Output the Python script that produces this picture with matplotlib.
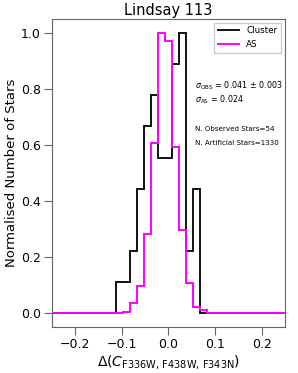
import numpy as np
import matplotlib
matplotlib.use('Agg')
import matplotlib.pyplot as plt

# bin edges of the histograms (same binning for both samples)
bin_edges = [-0.25, -0.112, -0.097, -0.082, -0.067, -0.052, -0.037, -0.022,
             -0.007, 0.008, 0.023, 0.038, 0.053, 0.068, 0.083, 0.25]

# star counts per bin
cluster_counts = [0, 1, 1, 2, 4, 6, 7, 5, 5, 8, 9, 2, 4, 0, 0]
as_counts = [0, 0, 1, 12, 32, 93, 201, 330, 321, 196, 98, 35, 7, 4, 0]

sigma_obs = 0.041
sigma_obs_err = 0.003
sigma_as = 0.024
n_obs = 54
n_as = 1330

cluster_norm = np.array(cluster_counts) / max(cluster_counts)
as_norm = np.array(as_counts) / max(as_counts)

fig = plt.figure(figsize=(2.98, 3.73), dpi=100)
ax = fig.add_axes([0.174, 0.123, 0.782, 0.826])

ax.stairs(cluster_norm, bin_edges, color='#111111', lw=1.4, label='Cluster')
ax.stairs(as_norm, bin_edges, color='magenta', lw=1.4, label='AS')

ax.set_xlim(-0.25, 0.25)
ax.set_ylim(-0.05, 1.05)
ax.set_xticks([-0.2, -0.1, 0.0, 0.1, 0.2])
ax.set_yticks([0.0, 0.2, 0.4, 0.6, 0.8, 1.0])
ax.tick_params(labelsize=9, length=5.5, width=0.8, color='#666666', pad=2.5)
for sp in ax.spines.values():
    sp.set_color('#666666')
    sp.set_linewidth(0.8)

ax.set_title('Lindsay 113', fontsize=10.5, pad=3)
ax.set_ylabel('Normalised Number of Stars', fontsize=9.5, labelpad=2)
ax.set_xlabel(r'$\Delta(C_{\rm F336W,\, F438W,\, F343N})$', fontsize=10, labelpad=1)

ax.legend(loc='upper right', fontsize=6.3, handlelength=2.4, borderpad=0.45,
          labelspacing=0.55, framealpha=1, fancybox=False, borderaxespad=0.4)

ax.text(0.058, 0.81, r'$\sigma_{\rm OBS}$ = %.3f $\pm$ %.3f' % (sigma_obs, sigma_obs_err),
        fontsize=5.8, va='center')
ax.text(0.058, 0.76, r'$\sigma_{\rm AS}$ = %.3f' % sigma_as, fontsize=5.8, va='center')
ax.text(0.058, 0.657, 'N. Observed Stars=%d' % n_obs, fontsize=5.1, va='center')
ax.text(0.058, 0.607, 'N. Artificial Stars=%d' % n_as, fontsize=5.1, va='center')

fig.savefig('out.png', dpi=100)
